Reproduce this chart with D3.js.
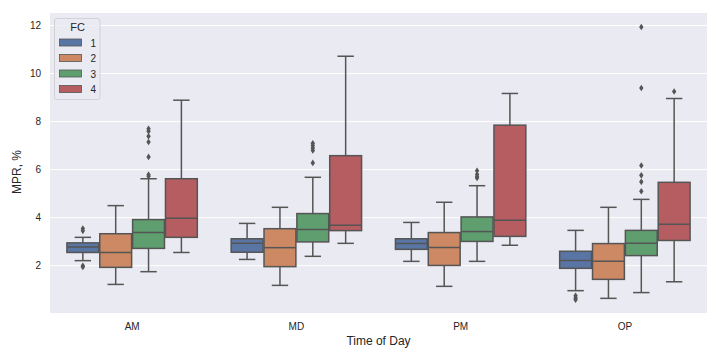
<!DOCTYPE html>
<html>
<head>
<meta charset="utf-8">
<script src="https://cdn.jsdelivr.net/npm/d3@7"></script>
<style>
  body { margin: 0; background: #fff; }
  text { font-family: "Liberation Sans", Arial, sans-serif; fill: #262626; }
</style>
</head>
<body>
<div id="chart"></div>
<script>
// categories and hue levels
var times = ["AM", "MD", "PM", "OP"];
var fcs = ["1", "2", "3", "4"];
var colors = ["#5975a4", "#cc8963", "#5f9e6e", "#b55d60"];
var yTicks = [2, 4, 6, 8, 10, 12];

// box stats, rows = time of day, columns = FC 1..4
var whiskLo = [[2.21, 1.22, 1.75, 2.55],
               [2.26, 1.18, 2.39, 2.93],
               [2.18, 1.14, 2.18, 2.85],
               [0.96, 0.64, 0.88, 1.33]];
var q1 =      [[2.55, 1.93, 2.72, 3.18],
               [2.56, 1.96, 2.99, 3.46],
               [2.68, 2.01, 3.01, 3.22],
               [1.89, 1.43, 2.42, 3.05]];
var median =  [[2.78, 2.55, 3.38, 3.97],
               [2.93, 2.75, 3.51, 3.68],
               [2.92, 2.76, 3.42, 3.89],
               [2.22, 2.18, 2.93, 3.72]];
var q3 =      [[2.95, 3.33, 3.92, 5.62],
               [3.12, 3.54, 4.17, 6.58],
               [3.12, 3.38, 4.03, 7.85],
               [2.60, 2.92, 3.47, 5.47]];
var whiskHi = [[3.18, 4.50, 5.62, 8.89],
               [3.76, 4.43, 5.68, 10.72],
               [3.80, 4.64, 5.33, 9.17],
               [3.47, 4.43, 4.76, 8.96]];
var outliers = [[[3.45, 3.55, 2.0, 1.95], [], [5.72, 5.79, 6.53, 7.15, 7.39, 7.6, 7.7], []],
                [[], [], [6.28, 6.8, 6.9, 7.0, 7.1], []],
                [[], [], [5.65, 5.7, 5.8, 5.95], []],
                [[0.75, 0.65, 0.58], [], [5.1, 5.49, 5.76, 6.17, 9.4, 11.94], [9.25]]];

var margin = {top: 13, right: 13, bottom: 47, left: 50},
    width = 720 - margin.left - margin.right,
    height = 360 - margin.top - margin.bottom;

var svg = d3.select("#chart")
  .append("svg")
    .attr("width", 720)
    .attr("height", 360)
  .append("g")
    .attr("transform", "translate(" + margin.left + "," + margin.top + ")");

svg.append("rect")
  .attr("width", width)
  .attr("height", height)
  .attr("fill", "#eaeaf2");

var x = d3.scaleBand().domain(times).range([0, width]);
var xHue = d3.scaleBand().domain(fcs).range([0, x.bandwidth() * 0.8]);
var y = d3.scaleLinear().domain([0.03, 12.52]).range([height, 0]);

// grid
svg.append("g")
  .selectAll("line")
  .data(yTicks)
  .enter().append("line")
    .attr("x1", 0).attr("x2", width)
    .attr("y1", function(d) { return y(d); })
    .attr("y2", function(d) { return y(d); })
    .attr("stroke", "#fff")
    .attr("stroke-width", 1);

// axes
var yAxis = svg.append("g")
  .call(d3.axisLeft(y).tickValues(yTicks).tickSize(0).tickPadding(9));
yAxis.select(".domain").remove();
yAxis.selectAll("text").style("font-size", "10px").style("font-family", "Liberation Sans, Arial, sans-serif").attr("fill", "#262626");

var xAxis = svg.append("g")
  .attr("transform", "translate(0," + height + ")")
  .call(d3.axisBottom(x).tickSize(0).tickPadding(10));
xAxis.select(".domain").remove();
xAxis.selectAll("text").style("font-size", "10px").style("font-family", "Liberation Sans, Arial, sans-serif").attr("fill", "#262626");

svg.append("text")
  .attr("x", width / 2)
  .attr("y", height + 32)
  .attr("text-anchor", "middle")
  .style("font-size", "12px")
  .text("Time of Day");

svg.append("text")
  .attr("transform", "rotate(-90)")
  .attr("x", -(y(5.9)))
  .attr("y", -29)
  .attr("text-anchor", "middle")
  .style("font-size", "12px")
  .text("MPR, %");

// boxes
var gray = "#555";
var boxes = [];
times.forEach(function(t, i) {
  fcs.forEach(function(f, j) {
    boxes.push({t: t, f: f, j: j,
      lo: whiskLo[i][j], q1: q1[i][j], med: median[i][j], q3: q3[i][j], hi: whiskHi[i][j],
      out: outliers[i][j]});
  });
});

var bw = xHue.bandwidth();
var g = svg.selectAll(".box")
  .data(boxes)
  .enter().append("g")
    .attr("class", "box")
    .attr("transform", function(d) {
      return "translate(" + (x(d.t) + x.bandwidth() * 0.1 + xHue(d.f)) + ",0)";
    });

// whiskers
g.append("line")
  .attr("x1", bw / 2).attr("x2", bw / 2)
  .attr("y1", function(d) { return y(d.lo); })
  .attr("y2", function(d) { return y(d.q1); })
  .attr("stroke", gray).attr("stroke-width", 1.5);
g.append("line")
  .attr("x1", bw / 2).attr("x2", bw / 2)
  .attr("y1", function(d) { return y(d.q3); })
  .attr("y2", function(d) { return y(d.hi); })
  .attr("stroke", gray).attr("stroke-width", 1.5);
g.append("line")
  .attr("x1", bw / 4).attr("x2", bw * 3 / 4)
  .attr("y1", function(d) { return y(d.lo); })
  .attr("y2", function(d) { return y(d.lo); })
  .attr("stroke", gray).attr("stroke-width", 1.5);
g.append("line")
  .attr("x1", bw / 4).attr("x2", bw * 3 / 4)
  .attr("y1", function(d) { return y(d.hi); })
  .attr("y2", function(d) { return y(d.hi); })
  .attr("stroke", gray).attr("stroke-width", 1.5);

g.append("rect")
  .attr("x", 0.5)
  .attr("width", bw - 1)
  .attr("y", function(d) { return y(d.q3); })
  .attr("height", function(d) { return y(d.q1) - y(d.q3); })
  .attr("fill", function(d) { return colors[d.j]; })
  .attr("stroke", gray).attr("stroke-width", 1.5);

g.append("line")
  .attr("x1", 0.5).attr("x2", bw - 0.5)
  .attr("y1", function(d) { return y(d.med); })
  .attr("y2", function(d) { return y(d.med); })
  .attr("stroke", gray).attr("stroke-width", 1.5);

// outliers (thin diamonds)
g.selectAll(".out")
  .data(function(d) { return d.out; })
  .enter().append("path")
    .attr("d", "M0,-3.3L2.2,0L0,3.3L-2.2,0Z")
    .attr("transform", function(v) { return "translate(" + bw / 2 + "," + y(v) + ")"; })
    .attr("fill", gray);

// legend
var lg = svg.append("g").attr("transform", "translate(4.5,5.5)");
lg.append("rect")
  .attr("width", 45.5).attr("height", 81)
  .attr("rx", 2.5)
  .attr("fill", "#eaeaf2").attr("fill-opacity", 0.8)
  .attr("stroke", "#ccc").attr("stroke-width", 0.8);
lg.append("text")
  .attr("x", 23).attr("y", 12.5)
  .attr("text-anchor", "middle")
  .style("font-size", "11px")
  .text("FC");
var item = lg.selectAll(".item")
  .data(fcs)
  .enter().append("g")
    .attr("transform", function(d, i) { return "translate(5," + (20.5 + i * 15.5) + ")"; });
item.append("rect")
  .attr("width", 22).attr("height", 7)
  .attr("fill", function(d, i) { return colors[i]; })
  .attr("stroke", gray).attr("stroke-width", 0.8);
item.append("text")
  .attr("x", 31).attr("y", 7.5)
  .style("font-size", "10px")
  .text(function(d) { return d; });
</script>
</body>
</html>
